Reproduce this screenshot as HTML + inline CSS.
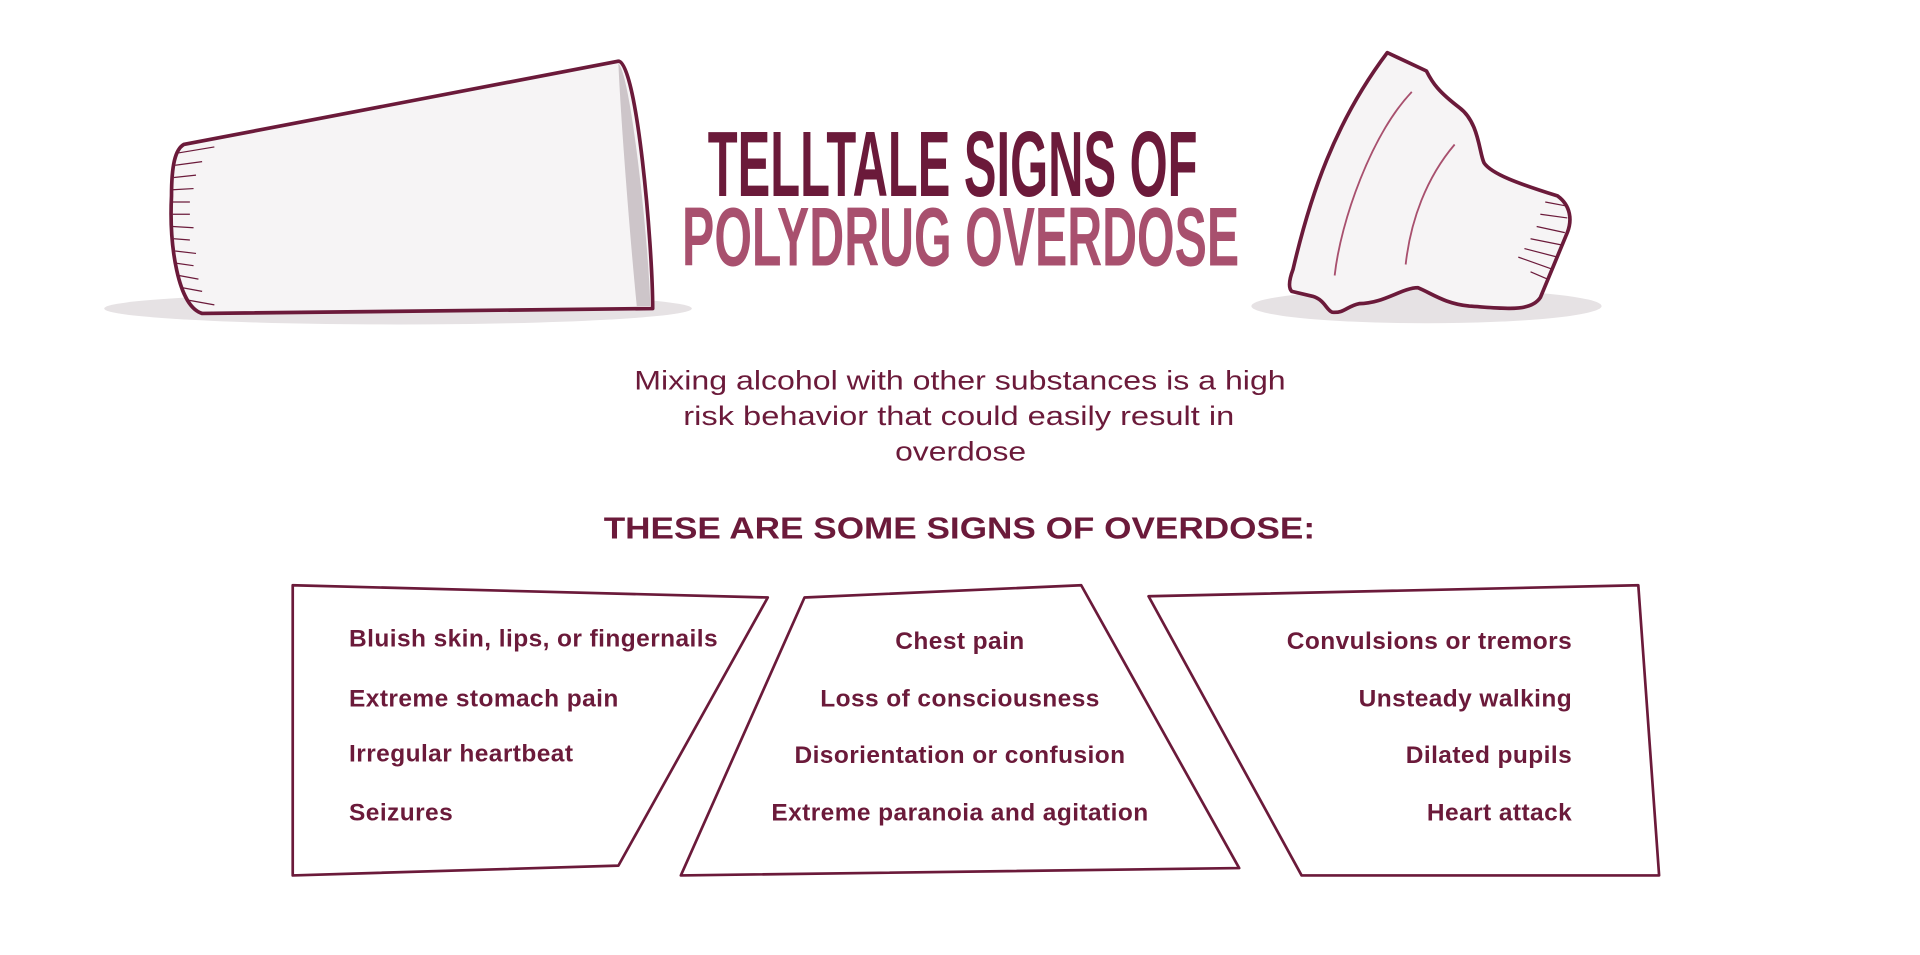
<!DOCTYPE html>
<html><head><meta charset="utf-8"><style>
html,body{margin:0;padding:0;background:#fff;}
svg{display:block;}
.b{font-family:"Liberation Sans",sans-serif;font-weight:bold;fill:#6b1a3a;font-size:20px;letter-spacing:0.35px;}
</style></head><body>
<svg width="1920" height="955" viewBox="0 0 1568 780" xmlns="http://www.w3.org/2000/svg">
<!-- left cup -->
<ellipse cx="325" cy="252" rx="240" ry="13" fill="#e6e2e4"/>
<path d="M150,118 L505,50 C520,50 533,200 533,252 L165,256 C145,250 138,200 140,160 C140,135 143,122 150,118 Z" fill="#f6f4f5" stroke="#6b1a3a" stroke-width="3" stroke-linejoin="round"/>
<path d="M505,52 C515,60 530,200 531,250 L520,250 C515,200 507,100 505,52 Z" fill="#cdc5c9"/>
<g stroke="#6b1a3a" stroke-width="1">
<line x1="145" y1="125" x2="175" y2="120"/><line x1="143" y1="135" x2="165" y2="132"/><line x1="142" y1="145" x2="160" y2="143"/><line x1="141" y1="155" x2="158" y2="154"/><line x1="141" y1="165" x2="155" y2="165"/><line x1="141" y1="175" x2="155" y2="175"/><line x1="141" y1="185" x2="158" y2="186"/><line x1="142" y1="195" x2="155" y2="196"/><line x1="143" y1="205" x2="160" y2="207"/><line x1="144" y1="215" x2="158" y2="217"/><line x1="146" y1="225" x2="162" y2="228"/><line x1="149" y1="235" x2="165" y2="238"/><line x1="153" y1="245" x2="175" y2="249"/>
</g>
<!-- right cup -->
<ellipse cx="1165" cy="250" rx="143" ry="14" fill="#e6e2e4"/>
<path d="M1133,43 L1165,58 C1170,68 1175,75 1192,88 C1208,100 1208,125 1212,133 C1218,142 1240,150 1272,160 C1283,168 1284,180 1280,190 L1258,243 C1250,255 1230,252 1200,250 C1180,248 1170,240 1158,235 C1145,235 1130,248 1110,248 C1100,250 1098,256 1088,255 C1083,253 1082,245 1072,242 L1055,238 C1052,235 1053,228 1056,220 C1070,160 1090,100 1133,43 Z" fill="#f6f4f5" stroke="#6b1a3a" stroke-width="3" stroke-linejoin="round"/>
<path d="M1090,225 C1095,180 1120,110 1153,75" fill="none" stroke="#a8506e" stroke-width="1.5"/>
<path d="M1148,216 C1152,180 1165,145 1188,118" fill="none" stroke="#a8506e" stroke-width="1.5"/>
<g stroke="#6b1a3a" stroke-width="1">
<line x1="1262" y1="165" x2="1278" y2="168"/><line x1="1258" y1="175" x2="1280" y2="178"/><line x1="1255" y1="185" x2="1278" y2="190"/><line x1="1250" y1="195" x2="1275" y2="200"/><line x1="1245" y1="203" x2="1272" y2="210"/><line x1="1240" y1="210" x2="1268" y2="220"/><line x1="1250" y1="222" x2="1264" y2="228"/>
</g>
<!-- title -->
<text x="578" y="160" textLength="400" lengthAdjust="spacingAndGlyphs" font-family="Liberation Sans Narrow, Liberation Sans, sans-serif" font-weight="bold" font-size="76" fill="#6b1a3a">TELLTALE SIGNS OF</text>
<text x="557" y="217" textLength="455" lengthAdjust="spacingAndGlyphs" font-family="Liberation Sans Narrow, Liberation Sans, sans-serif" font-weight="bold" font-size="68" fill="#a8506e">POLYDRUG OVERDOSE</text>
<g font-family="Liberation Sans, sans-serif" font-size="22" fill="#6b1a3a">
<text x="518" y="318" textLength="532" lengthAdjust="spacingAndGlyphs">Mixing alcohol with other substances is a high</text>
<text x="558" y="347" textLength="450" lengthAdjust="spacingAndGlyphs">risk behavior that could easily result in</text>
<text x="731" y="376" textLength="107" lengthAdjust="spacingAndGlyphs">overdose</text>
</g>
<text x="493" y="440" textLength="581" lengthAdjust="spacingAndGlyphs" font-family="Liberation Sans, sans-serif" font-weight="bold" font-size="25" fill="#6b1a3a">THESE ARE SOME SIGNS OF OVERDOSE:</text>
<!-- boxes -->
<g fill="none" stroke="#6b1a3a" stroke-width="2.2" stroke-linejoin="round">
<polygon points="239,478 627,488 505,707 239,715"/>
<polygon points="657,488 883,478 1012,709 556,715"/>
<polygon points="938,487 1338,478 1355,715 1063,715"/>
</g>
<g class="b">
<text x="285" y="528">Bluish skin, lips, or fingernails</text>
<text x="285" y="577">Extreme stomach pain</text>
<text x="285" y="622">Irregular heartbeat</text>
<text x="285" y="670">Seizures</text>
</g>
<g class="b" text-anchor="middle">
<text x="784" y="530">Chest pain</text>
<text x="784" y="577">Loss of consciousness</text>
<text x="784" y="623">Disorientation or confusion</text>
<text x="784" y="670">Extreme paranoia and agitation</text>
</g>
<g class="b" text-anchor="end">
<text x="1284" y="530">Convulsions or tremors</text>
<text x="1284" y="577">Unsteady walking</text>
<text x="1284" y="623">Dilated pupils</text>
<text x="1284" y="670">Heart attack</text>
</g>
</svg>
</body></html>
